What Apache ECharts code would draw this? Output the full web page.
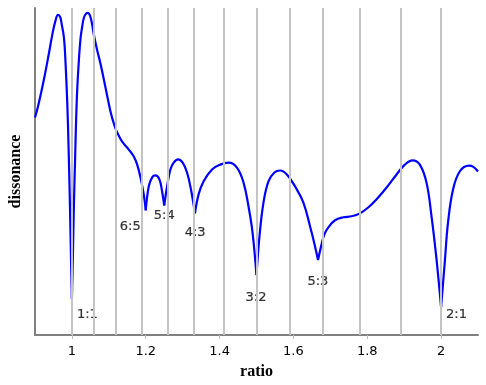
<!DOCTYPE html>
<html>
<head>
<meta charset="utf-8">
<script src="https://cdn.jsdelivr.net/npm/echarts@6/dist/echarts.min.js"></script>
<style>
  html, body { margin: 0; padding: 0; background: #fff; }
  #chart { width: 486px; height: 385px; }
</style>
</head>
<body>
<div id="chart"></div>
<script>
// dissonance curve (ratio, relative dissonance)
const ratios = [
  0.9, 0.9073, 0.9154, 0.9262, 0.937, 0.9478, 0.9559, 0.9622, 0.9681, 0.9722,
  0.9784, 0.983, 0.9876, 0.9911, 0.9946, 0.9973, 1.0, 1.0027, 1.0054, 1.0086,
  1.0114, 1.0146, 1.0189, 1.0235, 1.0281, 1.0324, 1.0378, 1.0432, 1.0492, 1.0546,
  1.0595, 1.0681, 1.0776, 1.0911, 1.1046, 1.1154, 1.1227, 1.1362, 1.1541, 1.1676,
  1.1768, 1.1857, 1.1946, 1.2, 1.2081, 1.2173, 1.2262, 1.237, 1.2443, 1.25,
  1.2578, 1.2668, 1.2757, 1.2876, 1.3, 1.3119, 1.3235, 1.3333, 1.3432, 1.3568,
  1.3795, 1.4019, 1.4243, 1.447, 1.4649, 1.4784, 1.4892, 1.5, 1.5081, 1.5189,
  1.5324, 1.5486, 1.5641, 1.5822, 1.6046, 1.627, 1.6451, 1.6559, 1.6667, 1.6749,
  1.6838, 1.6946, 1.7127, 1.7351, 1.7578, 1.7803, 1.8027, 1.8254, 1.8524, 1.8795,
  1.9019, 1.9227, 1.9424, 1.9605, 1.9741, 1.9876, 2.0, 2.01, 2.0189, 2.0324,
  2.0505, 2.0757, 2.0865, 2.1
];
const dissonance = [
  0.665, 0.695, 0.735, 0.793, 0.857, 0.924, 0.963, 0.979, 0.973, 0.951,
  0.909, 0.826, 0.704, 0.567, 0.399, 0.247, 0.11, 0.247, 0.399, 0.537,
  0.659, 0.756, 0.841, 0.909, 0.945, 0.97, 0.982, 0.985, 0.976, 0.951,
  0.918, 0.872, 0.829, 0.756, 0.683, 0.64, 0.619, 0.591, 0.567, 0.546,
  0.521, 0.482, 0.43, 0.381, 0.454, 0.482, 0.488, 0.476, 0.439, 0.396,
  0.454, 0.506, 0.527, 0.537, 0.527, 0.497, 0.439, 0.372, 0.43, 0.47,
  0.506, 0.521, 0.527, 0.512, 0.466, 0.393, 0.314, 0.183, 0.302, 0.405,
  0.47, 0.497, 0.503, 0.491, 0.454, 0.405, 0.332, 0.284, 0.229, 0.271,
  0.308, 0.329, 0.351, 0.36, 0.363, 0.372, 0.39, 0.415, 0.451, 0.491,
  0.521, 0.534, 0.521, 0.466, 0.363, 0.232, 0.085, 0.223, 0.345, 0.445,
  0.5, 0.518, 0.515, 0.5
];

// equal-tempered semitones (grey verticals)
const semitones = [1, 1.0595, 1.1225, 1.1892, 1.2599, 1.3348, 1.4142, 1.4983,
  1.5874, 1.6818, 1.7818, 1.8877, 2];

// just intervals at the minima, and where their names sit (top-left corner)
const intervalRatios = [1, 1.2, 1.25, 1.3333, 1.5, 1.6667, 2];
const intervalNames = ['1:1', '6:5', '5:4', '4:3', '3:2', '5:3', '2:1'];
const nameX = [1.01351, 1.12973, 1.22162, 1.30541, 1.47027, 1.63784, 2.01351];
const nameY = [0.082317, 0.353659, 0.387195, 0.335366, 0.137195, 0.185976, 0.082317];

const tickValues = [1, 1.2, 1.4, 1.6, 1.8, 2];

// split the curve at the minima so each arc is smoothed but the cusps stay sharp
const arcs = [];
let cur = [];
ratios.forEach((r, i) => {
  cur.push([r, dissonance[i]]);
  if (intervalRatios.indexOf(r) !== -1) {
    arcs.push(cur);
    cur = [[r, dissonance[i]]];
  }
});
arcs.push(cur);

const chart = echarts.init(document.getElementById('chart'));

const option = {
  animation: false,
  grid: { left: 34, right: 8, top: 8, bottom: 49 },
  xAxis: {
    type: 'value',
    min: 0.9,
    max: 2.1,
    name: 'ratio',
    nameLocation: 'middle',
    nameGap: 29,
    nameTextStyle: {
      fontFamily: 'Liberation Serif',
      fontWeight: 'bold',
      fontSize: 16,
      color: '#000'
    },
    axisLine: { onZero: false, lineStyle: { color: '#808080', width: 2 } },
    axisTick: {
      customValues: tickValues,
      length: 4,
      lineStyle: { color: '#c0c0c0', width: 1 }
    },
    axisLabel: {
      customValues: tickValues,
      margin: 10,
      fontFamily: 'DejaVu Sans',
      fontSize: 13,
      color: '#000'
    },
    splitLine: { show: false }
  },
  yAxis: {
    type: 'value',
    min: 0,
    max: 1,
    name: 'dissonance',
    nameLocation: 'middle',
    nameGap: 11,
    nameTextStyle: {
      fontFamily: 'Liberation Serif',
      fontWeight: 'bold',
      fontSize: 16,
      color: '#000'
    },
    axisLine: { show: true, lineStyle: { color: '#808080', width: 2 } },
    axisTick: { show: false },
    axisLabel: { show: false },
    splitLine: { show: false }
  },
  series: [
    {
      type: 'line',
      data: [],
      silent: true,
      z: 1,
      markLine: {
        silent: true,
        symbol: 'none',
        label: { show: false },
        lineStyle: { color: '#c4c4c4', width: 2, type: 'solid' },
        data: semitones.map(v => ({ xAxis: v }))
      }
    },
    ...arcs.map(arc => ({
      type: 'line',
      z: 3,
      symbol: 'none',
      smooth: 0.4,
      silent: true,
      lineStyle: { color: '#0000ff', width: 2.2 },
      data: arc
    })),
    {
      type: 'scatter',
      z: 4,
      symbolSize: 0,
      silent: true,
      label: {
        show: true,
        position: [0, 0],
        align: 'left',
        verticalAlign: 'top',
        lineHeight: 14,
        formatter: p => p.name,
        fontFamily: 'DejaVu Sans',
        fontSize: 13,
        color: '#000',
        textBorderColor: '#000',
        textBorderWidth: 0.2
      },
      data: intervalNames.map((n, i) => ({ name: n, value: [nameX[i], nameY[i]] }))
    }
  ]
};

chart.setOption(option);
</script>
</body>
</html>
